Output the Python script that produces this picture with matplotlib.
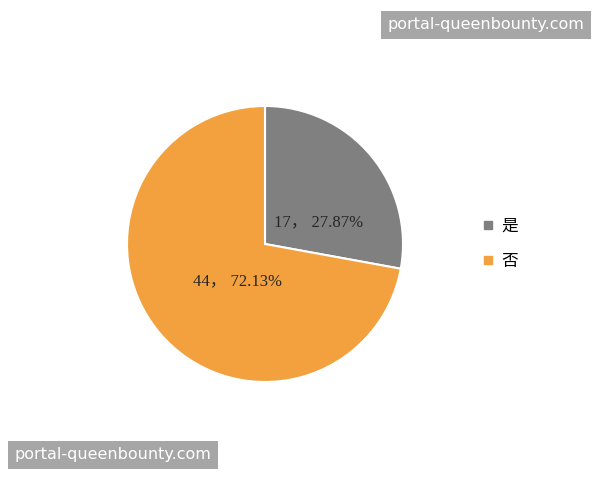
import matplotlib
matplotlib.use("Agg")
import matplotlib.pyplot as plt
from matplotlib.lines import Line2D

# data
labels = ["是", "否"]
counts = [17, 44]
colors = ["#808080", "#F2A13E"]
watermark = "portal-queenbounty.com"

plt.rcParams["font.family"] = ["Liberation Serif", "Noto Sans CJK SC", "DejaVu Sans"]

fig = plt.figure(figsize=(6, 4.8), dpi=100)
ax = fig.add_axes([127 / 600, 98 / 480, 276 / 600, 276 / 480])

total = sum(counts)
wedges, _ = ax.pie(counts, colors=colors, startangle=90, counterclock=False,
                   wedgeprops=dict(edgecolor="white", linewidth=1.5))
ax.set_aspect("equal")
ax.set_xlim(-1.0, 1.0)
ax.set_ylim(-1.0, 1.0)

# value labels, placed roughly where the original puts them
label_pos = [(0.39, 0.16), (-0.2, -0.27)]
for c, (x, y) in zip(counts, label_pos):
    ax.text(x, y, f"{c}， {c / total * 100:.2f}%", ha="center", va="center",
            fontsize=12, color="#262626")

handles = [Line2D([], [], marker="s", linestyle="none", markersize=6,
                  markerfacecolor=col, markeredgecolor=col) for col in colors]
fig.legend(handles, labels, loc="center left", bbox_to_anchor=(483 / 600, 1 - 244 / 480),
           frameon=False, handlelength=0.6, handletextpad=0.5, labelspacing=1.1,
           borderpad=0, borderaxespad=0,
           prop={"family": ["Noto Sans CJK SC"], "size": 12})

# watermarks
box = dict(boxstyle="square,pad=0.4", facecolor="#a6a6a6", edgecolor="none")
fig.text(486 / 600, 1 - 25 / 480, watermark, ha="center", va="center", color="white",
         fontsize=11.5, family="DejaVu Sans", bbox=box)
fig.text(113 / 600, 1 - 455 / 480, watermark, ha="center", va="center", color="white",
         fontsize=11.5, family="DejaVu Sans", bbox=box)

fig.savefig("out.png", dpi=100)
